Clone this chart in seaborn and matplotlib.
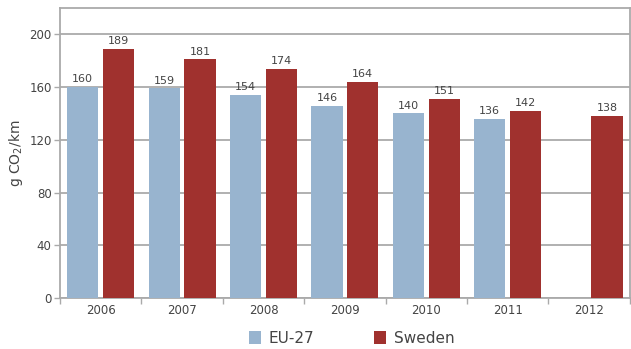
import numpy as np
import pandas as pd
import matplotlib
matplotlib.use("Agg")
import matplotlib.pyplot as plt
import seaborn as sns
from matplotlib.ticker import FixedLocator
from matplotlib.patches import Patch

years = ["2006", "2007", "2008", "2009", "2010", "2011", "2012"]
eu27 = [160, 159, 154, 146, 140, 136, None]
sweden = [189, 181, 174, 164, 151, 142, 138]
series_names = ["EU-27", "Sweden"]
colors = ["#98b4cf", "#a0312e"]
yticks = [0, 40, 80, 120, 160, 200]

rows = []
for y, e, s in zip(years, eu27, sweden):
    if e is not None:
        rows.append({"year": y, "series": "EU-27", "value": e})
    rows.append({"year": y, "series": "Sweden", "value": s})
df = pd.DataFrame(rows)

sns.set_theme(style="white")
plt.rcParams["font.family"] = ["DejaVu Sans"]
plt.rcParams["mathtext.default"] = "regular"

text_col = "#444444"
grid_col = "#aaaaaa"

fig = plt.figure(figsize=(6.31, 3.49), dpi=100)
ax = fig.add_axes([0.095, 0.146, 0.903, 0.831])

sns.barplot(data=df, x="year", y="value", hue="series", order=years,
            hue_order=series_names, palette=colors, width=0.88, gap=0.13,
            saturation=1, legend=False, ax=ax, zorder=3,
            edgecolor="none", linewidth=0)

for cont in ax.containers:
    ax.bar_label(cont, fmt="%d", padding=2, fontsize=8, color=text_col)

ax.set_ylim(0, 220)
ax.set_xlim(-0.5, 6.5)
ax.yaxis.set_major_locator(FixedLocator(yticks))
ax.grid(axis="y", color=grid_col, linewidth=1.3, zorder=0)
ax.set_axisbelow(True)

for side in ["left", "bottom", "top", "right"]:
    ax.spines[side].set_color(grid_col)
    ax.spines[side].set_linewidth(1.3)

ax.tick_params(axis="y", direction="out", length=4, width=1, color=grid_col,
               labelsize=8.5, labelcolor=text_col, pad=2, left=True)
ax.tick_params(axis="x", which="major", length=0, labelsize=8.5,
               labelcolor=text_col, pad=4)
ax.xaxis.set_minor_locator(FixedLocator(np.arange(-0.5, 7.0, 1.0)))
ax.tick_params(axis="x", which="minor", direction="out", length=4, width=1,
               color=grid_col, bottom=True)

ax.set_xlabel("")
ax.set_ylabel("g CO$_2$/km", fontsize=10, color=text_col, labelpad=3)

handles = [Patch(facecolor=c, edgecolor="none") for c in colors]
fig.legend(handles, series_names, loc="center", bbox_to_anchor=(0.557, 0.03),
           ncol=2, frameon=False, fontsize=11, handlelength=0.8,
           handleheight=0.9, handletextpad=0.5, columnspacing=3.9,
           labelcolor=text_col)

fig.savefig("out.png", dpi=100)
